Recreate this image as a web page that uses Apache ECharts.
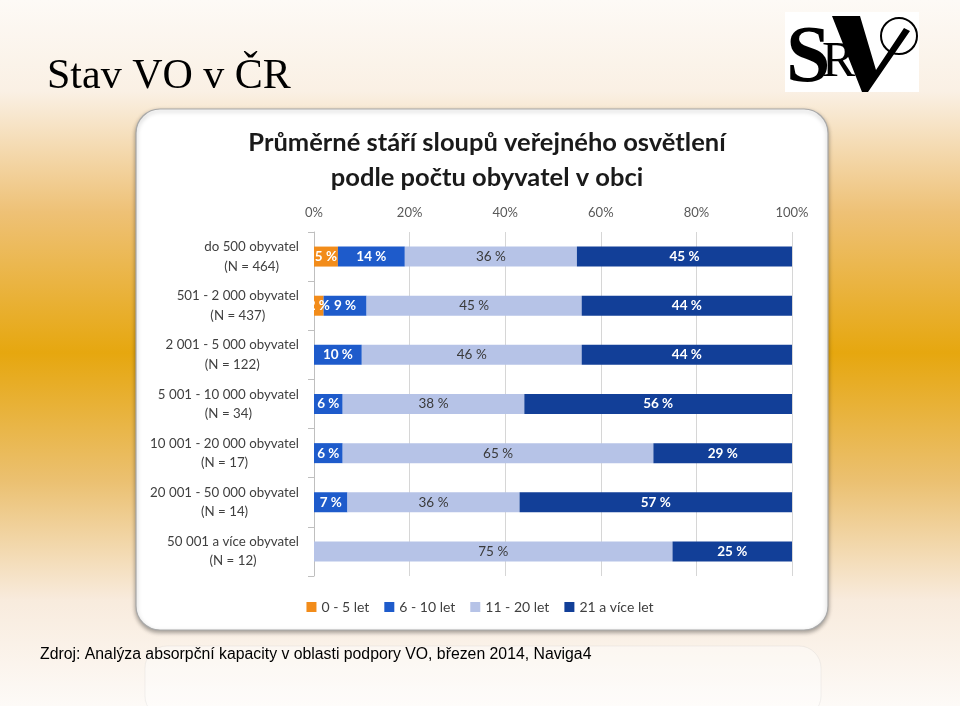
<!DOCTYPE html>
<html><head><meta charset="utf-8">
<script src="https://cdn.jsdelivr.net/npm/echarts@6/dist/echarts.min.js"></script>
<style>html,body{margin:0;padding:0;}#c{width:960px;height:706px;}</style>
</head><body><div id="c"></div>
<script>
const categories = [
  'do 500 obyvatel\n(N = 464)',
  '501 - 2 000 obyvatel\n(N = 437)',
  '2 001 - 5 000 obyvatel\n(N = 122)',
  '5 001 - 10 000 obyvatel\n(N = 34)',
  '10 001 - 20 000 obyvatel\n(N = 17)',
  '20 001 - 50 000 obyvatel\n(N = 14)',
  '50 001 a více obyvatel\n(N = 12)'
];
const seriesNames = ['0 - 5 let', '6 - 10 let', '11 - 20 let', '21 a více let'];
const age0to5   = [5, 2, 0, 0, 0, 0, 0];
const age6to10  = [14, 9, 10, 6, 6, 7, 0];
const age11to20 = [36, 45, 46, 38, 65, 36, 75];
const age21plus = [45, 44, 44, 56, 29, 57, 25];
const xTicks = [0, 20, 40, 60, 80, 100];

const colors = ['#F28C1A', '#1E5BCB', '#B6C3E7', '#123F98'];
const labelColors = ['#ffffff', '#ffffff', '#3a3a3a', '#ffffff'];
const font = 'Lato';

const chart = echarts.init(document.getElementById('c'), null, {renderer: 'canvas'});
const dataSets = [age0to5, age6to10, age11to20, age21plus];

const series = dataSets.map((d, i) => ({
  name: seriesNames[i],
  type: 'bar',
  stack: 'total',
  barWidth: 20,
  data: d,
  itemStyle: {color: colors[i]},
  label: {
    show: true,
    position: 'inside',
    color: labelColors[i],
    fontFamily: font,
    fontSize: 13.5,
    fontWeight: i === 2 ? 'normal' : 'bold',
    formatter: p => p.value ? p.value + ' %' : ''
  },
  z: 3
}));

chart.setOption({
  animation: false,
  backgroundColor: {
    type: 'linear', x: 0, y: 0, x2: 0, y2: 1,
    colorStops: [
      {offset: 0, color: '#fdfaf6'},
      {offset: 0.13, color: '#faf0e4'},
      {offset: 0.3, color: '#eec176'},
      {offset: 0.5, color: '#e6a70f'},
      {offset: 0.68, color: '#ebc070'},
      {offset: 0.85, color: '#f8ebdd'},
      {offset: 1, color: '#fdfaf7'}
    ]
  },
  graphic: [
    {type: 'rect', shape: {x: 145, y: 646, width: 676, height: 72, r: 22}, style: {fill: 'rgba(255,255,255,0.4)', stroke: 'rgba(190,190,190,0.2)'}, z: 0, silent: true},
    {type: 'rect', shape: {x: 136, y: 109, width: 692, height: 521, r: 24},
     style: {fill: '#ffffff', stroke: '#a9a9a9', lineWidth: 1.2, shadowBlur: 4, shadowOffsetY: 2, shadowColor: 'rgba(0,0,0,0.35)'}, z: 0, silent: true},
    {type: 'text', left: 47, top: 56, style: {text: 'Stav VO v ČR', font: '42px "Liberation Serif"', fill: '#000000'}, z: 5},
    {type: 'text', left: 40, top: 647, style: {text: 'Zdroj: Analýza absorpční kapacity v oblasti podpory VO, březen 2014, Naviga4', font: '15.8px "Liberation Sans"', fill: '#000000'}, z: 5},
    // logo
    {type: 'rect', shape: {x: 785, y: 12, width: 134, height: 80}, style: {fill: '#ffffff'}, z: 4},
    {type: 'text', x: 786, y: 20, style: {text: 'S', font: 'bold 80px "Liberation Serif"', fill: '#000'}, z: 5},
    {type: 'text', x: 822, y: 38, style: {text: 'R', font: '50px "Liberation Serif"', fill: '#000'}, z: 5},
    {type: 'polygon', shape: {points: [[832, 16], [860, 16], [876, 70], [904, 28], [910, 31], [868, 92], [862, 92]]}, style: {fill: '#000'}, z: 5},
    {type: 'circle', shape: {cx: 899, cy: 36, r: 18}, style: {fill: 'none', stroke: '#000', lineWidth: 2}, z: 5}
  ],
  title: {
    text: 'Průměrné stáří sloupů veřejného osvětlení\npodle počtu obyvatel v obci',
    left: 482, textAlign: 'center', top: 120,
    textStyle: {fontFamily: font, fontWeight: 'bold', fontSize: 25.5, lineHeight: 35, color: '#1a1a1a'}
  },
  legend: {
    data: seriesNames,
    top: 595, left: 'center',
    itemWidth: 10, itemHeight: 10, itemGap: 15,
    icon: 'rect',
    textStyle: {fontFamily: font, fontSize: 14, color: '#404040'}
  },
  grid: {left: 314, right: 168, top: 232, bottom: 130, containLabel: false},
  xAxis: {
    type: 'value', position: 'top', min: 0, max: 100, interval: 20,
    axisLine: {show: false}, axisTick: {show: false},
    splitLine: {lineStyle: {color: '#d6d6d6', width: 1}},
    axisLabel: {formatter: v => xTicks.includes(v) ? v + '%' : '', margin: 13, fontFamily: font, fontSize: 13, color: '#595959'}
  },
  yAxis: {
    type: 'category', inverse: true, data: categories,
    axisLine: {show: true, lineStyle: {color: '#bfbfbf'}},
    axisTick: {show: true, length: 6, lineStyle: {color: '#bfbfbf'}},
    axisLabel: {
      margin: 15, color: '#404040', fontFamily: font, fontSize: 13,
      formatter: v => v.split('\n').map(s => '{c|' + s + '}').join('\n'),
      rich: {c: {align: 'center', fontFamily: font, fontSize: 13.3, color: '#404040', lineHeight: 19.5}}
    }
  },
  series: series
});
</script></body></html>
